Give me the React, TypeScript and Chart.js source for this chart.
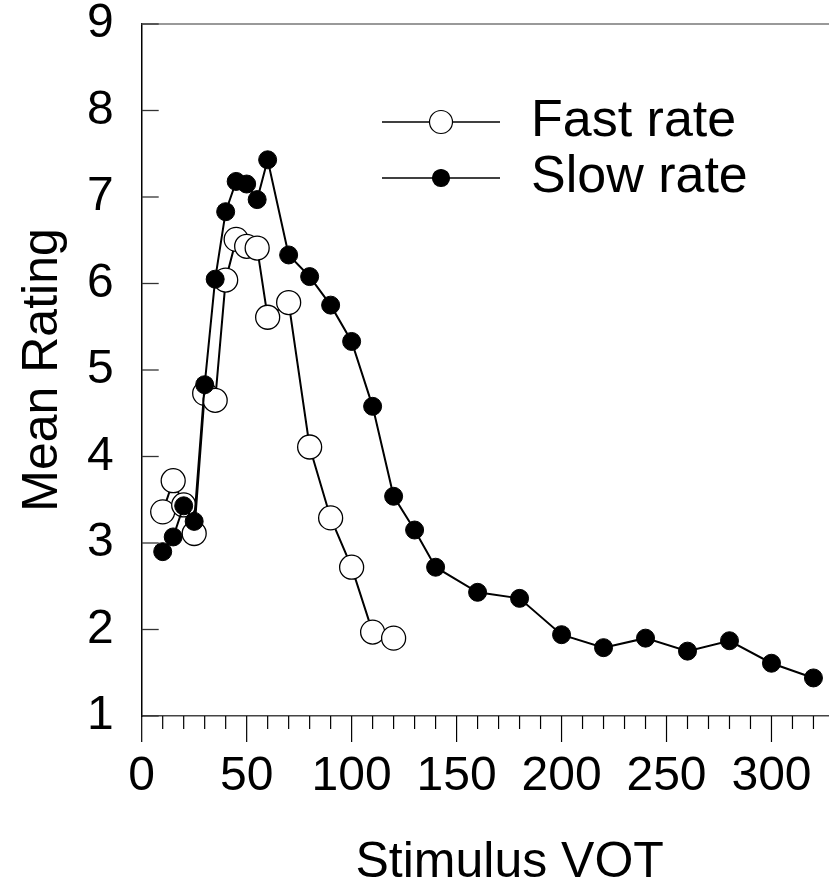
import React, { useEffect, useRef } from 'react';
import { Chart, registerables } from 'chart.js';

Chart.register(...registerables);

// ---- data ----
const fastVOT = [10, 15, 20, 25, 30, 35, 40, 45, 50, 55, 60, 70, 80, 90, 100, 110, 120];
const fastRating = [3.36, 3.72, 3.44, 3.11, 4.73, 4.65, 6.04, 6.51, 6.43, 6.41, 5.61, 5.78, 4.11, 3.29, 2.72, 1.97, 1.9];
const slowVOT = [10, 15, 20, 25, 30, 35, 40, 45, 50, 55, 60, 70, 80, 90, 100, 110, 120, 130, 140, 160, 180, 200, 220, 240, 260, 280, 300, 320];
const slowRating = [2.9, 3.07, 3.43, 3.25, 4.83, 6.05, 6.83, 7.18, 7.15, 6.97, 7.43, 6.33, 6.08, 5.75, 5.33, 4.58, 3.54, 3.15, 2.72, 2.43, 2.36, 1.94, 1.79, 1.9, 1.75, 1.87, 1.61, 1.44];
const seriesLabels = ['Fast rate', 'Slow rate'];
const xTickLabels = ['0', '50', '100', '150', '200', '250', '300'];
const yTickLabels = ['1', '2', '3', '4', '5', '6', '7', '8', '9'];
const xMinorStep = 10;
const xAxisTitle = 'Stimulus VOT';
const yAxisTitle = 'Mean Rating';

const FONT = "'Liberation Sans', Arial, Helvetica, sans-serif";

const decorPlugin = {
  id: 'decor',
  afterDraw(chart: any) {
    const { ctx, chartArea } = chart;
    const xs = chart.scales.x;
    const ys = chart.scales.y;
    const { left, right, top, bottom } = chartArea;
    ctx.save();
    // top frame line
    ctx.strokeStyle = '#777';
    ctx.lineWidth = 1.5;
    ctx.beginPath();
    ctx.moveTo(left, top);
    ctx.lineTo(right, top);
    ctx.stroke();
    // y ticks (inward)
    ctx.strokeStyle = '#333';
    ctx.lineWidth = 1.3;
    yTickLabels.forEach((t) => {
      const py = ys.getPixelForValue(Number(t));
      ctx.beginPath();
      ctx.moveTo(left, py);
      ctx.lineTo(left + 17, py);
      ctx.stroke();
    });
    // x ticks (outward, long at every 50)
    ctx.strokeStyle = '#000';
    ctx.lineWidth = 1.2;
    for (let v = 0; v <= xs.max + 1e-6; v += xMinorStep) {
      const px = xs.getPixelForValue(v);
      const len = v % 50 === 0 ? 26 : 13;
      ctx.beginPath();
      ctx.moveTo(px, bottom);
      ctx.lineTo(px, bottom + len);
      ctx.stroke();
    }
    // legend
    const rows = [122, 178];
    chart.data.datasets.forEach((ds: any, i: number) => {
      const y = rows[i];
      ctx.strokeStyle = '#000';
      ctx.lineWidth = 1.3;
      ctx.beginPath();
      ctx.moveTo(382, y);
      ctx.lineTo(500, y);
      ctx.stroke();
      ctx.beginPath();
      ctx.arc(441, y, i === 0 ? 11.5 : 8.5, 0, Math.PI * 2);
      ctx.fillStyle = ds.pointBackgroundColor;
      ctx.fill();
      ctx.lineWidth = 1.2;
      ctx.stroke();
      ctx.fillStyle = '#000';
      ctx.font = `52px ${FONT}`;
      ctx.textBaseline = 'middle';
      ctx.textAlign = 'left';
      ctx.fillText(ds.label, 531, y);
    });
    ctx.restore();
  },
};

export default function App() {
  const ref = useRef<HTMLCanvasElement | null>(null);
  useEffect(() => {
    if (!ref.current) return;
    const chart = new Chart(ref.current, {
      type: 'line',
      data: {
        datasets: [
          {
            label: seriesLabels[0],
            data: fastVOT.map((x, i) => ({ x, y: fastRating[i] })),
            borderColor: '#000',
            borderWidth: 2,
            pointRadius: 12,
            pointHoverRadius: 12,
            pointBackgroundColor: '#fff',
            pointBorderColor: '#000',
            pointBorderWidth: 1.3,
            order: 1,
          },
          {
            label: seriesLabels[1],
            data: slowVOT.map((x, i) => ({ x, y: slowRating[i] })),
            borderColor: '#000',
            borderWidth: 2,
            pointRadius: 9,
            pointHoverRadius: 9,
            pointBackgroundColor: '#000',
            pointBorderColor: '#000',
            pointBorderWidth: 1,
            order: 0,
          },
        ],
      },
      options: {
        animation: false,
        responsive: true,
        maintainAspectRatio: false,
        layout: { padding: { top: 24, left: 0, right: 0, bottom: 0 } },
        plugins: { legend: { display: false }, tooltip: { enabled: false } },
        scales: {
          x: {
            type: 'linear',
            position: 'bottom',
            min: 0,
            max: 350.6,
            grid: { display: false },
            border: { display: true, color: '#444', width: 1.5 },
            afterBuildTicks: (s: any) => {
              s.ticks = xTickLabels.map((t) => ({ value: Number(t) }));
            },
            ticks: {
              autoSkip: false,
              maxRotation: 0,
              padding: 29,
              color: '#000',
              font: { size: 48, family: FONT, lineHeight: 1 },
              callback: (v: any) => {
                const s = String(Math.round(v));
                return xTickLabels.includes(s) ? s : '';
              },
            },
            title: {
              display: true,
              text: xAxisTitle,
              color: '#000',
              font: { size: 50, family: FONT, lineHeight: 0.85 },
              padding: { top: 0, bottom: 0 },
            },
            afterFit: (s: any) => {
              s.height = 168;
              s.paddingLeft = 0;
              s.paddingRight = 0;
            },
          },
          y: {
            type: 'linear',
            position: 'left',
            min: 1,
            max: 9,
            grid: { display: false },
            border: { display: true, color: '#000', width: 1.5 },
            afterBuildTicks: (s: any) => {
              s.ticks = yTickLabels.map((t) => ({ value: Number(t) }));
            },
            ticks: {
              autoSkip: false,
              padding: 20,
              color: '#000',
              font: { size: 48, family: FONT, lineHeight: 1 },
              callback: (v: any) => {
                const s = String(Math.round(v));
                return yTickLabels.includes(s) ? s : '';
              },
            },
            title: {
              display: true,
              text: yAxisTitle,
              color: '#000',
              font: { size: 50, family: FONT, lineHeight: 1 },
              padding: { top: 18, bottom: 0 },
            },
            afterFit: (s: any) => {
              s.width = 141.7;
              s.paddingTop = 0;
              s.paddingBottom = 0;
            },
          },
        },
      },
      plugins: [decorPlugin],
    });
    return () => chart.destroy();
  }, []);
  return (
    <div style={{ position: 'fixed', left: 0, top: 0, width: 829, height: 884, overflow: 'hidden', background: '#fff' }}>
      <div style={{ position: 'absolute', left: 0, top: 0, width: 891, height: 884 }}>
        <canvas ref={ref} />
      </div>
    </div>
  );
}
